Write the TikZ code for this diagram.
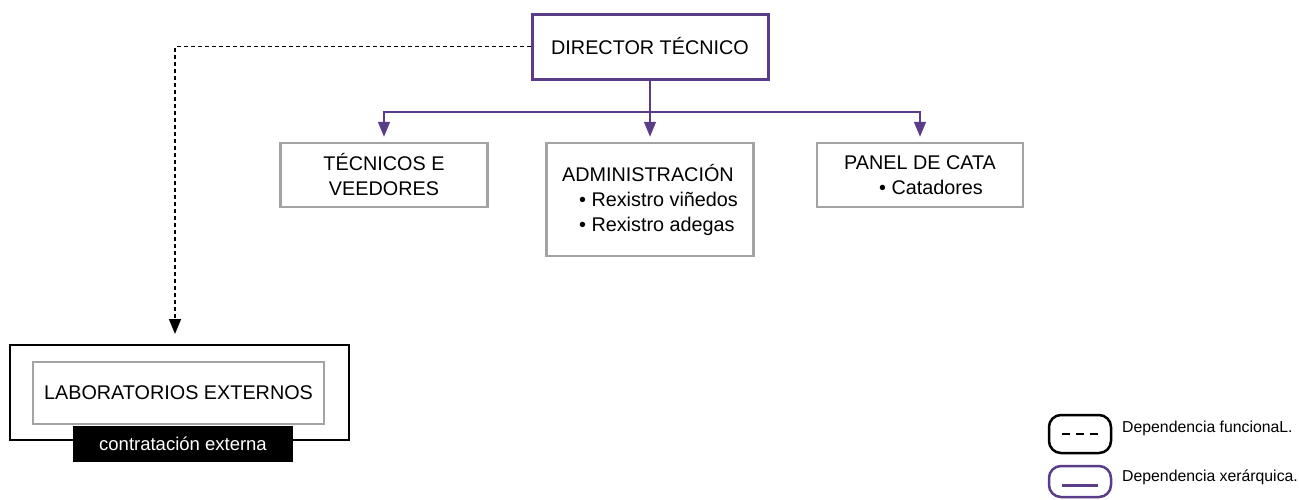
\documentclass[tikz,border=0pt]{standalone}
\usepackage{fontspec}
\setmainfont{Liberation Sans}
\usetikzlibrary{arrows.meta}
\definecolor{morado}{HTML}{5B3C88}
\definecolor{gris}{HTML}{A3A3A3}

\begin{document}
\begin{tikzpicture}[x=1pt, y=-1pt,
  every node/.style={font=\fontsize{19.8}{25}\selectfont, inner sep=0pt},
  director/.style={draw=morado, line width=3pt, minimum width=236pt, minimum height=65pt},
  caja/.style={draw=gris, line width=2.5pt, minimum width=207pt, minimum height=64pt},
  jerarquica/.style={draw=morado, line width=1.5pt},
  funcional/.style={draw=black, line width=1.5pt, dash pattern=on 4pt off 3pt},
  punta/.style={-{Triangle[width=12pt,length=15pt]}},
  leyenda/.style={rounded corners=12pt, line width=2.5pt, minimum width=62pt, minimum height=38pt},
  textoleyenda/.style={font=\fontsize{15.8}{18}\selectfont, anchor=west}]
  \useasboundingbox (0,0) rectangle (1299,499);

  \node[director] (dtec) at (650,46.5) {DIRECTOR TÉCNICO};
  \node[caja, align=center] (tecnicos) at (384,175) {TÉCNICOS E\\VEEDORES};
  \node[caja, align=left, minimum height=113pt] (admin) at (650,199.5)
    {ADMINISTRACIÓN\\\hspace*{17pt}• Rexistro viñedos\\\hspace*{17pt}• Rexistro adegas};
  \node[caja, align=left, minimum width=206pt] (panel) at (920,175)
    {PANEL DE CATA\\\hspace*{35pt}• Catadores};

  % laboratorios
  \node[draw, line width=2pt, minimum width=339pt, minimum height=95pt] (labext) at (179.5,392.5) {};
  \node[caja, minimum width=291pt, minimum height=62pt] (lab) at (178.5,393) {LABORATORIOS EXTERNOS};
  \node[fill=black, text=white, minimum width=220pt, minimum height=36pt,
    font=\fontsize{18.5}{22}\selectfont] (contrat) at (183,444) {contratación externa};

  % dependencia xerarquica
  \coordinate (barra) at (650,112);
  \draw[jerarquica] (dtec.south) -- (barra);
  \draw[jerarquica, punta, shorten >=5pt] (barra) -| (tecnicos.north);
  \draw[jerarquica, punta, shorten >=5pt] (barra) -- (admin.north);
  \draw[jerarquica, punta, shorten >=5pt] (barra) -| (panel.north);

  % dependencia funcional
  \draw[funcional, punta, shorten >=10pt] (dtec.west) -| ([xshift=-4.5pt]labext.north);

  % lenda
  \node[leyenda, draw=black] (leg1) at (1080,434) {};
  \draw[line width=2.5pt, dash pattern=on 8pt off 6pt]
    ([xshift=-18pt]leg1.center) -- ([xshift=18pt]leg1.center);
  \node[leyenda, draw=morado, minimum height=31pt] (leg2) at (1080,481.5) {};
  \draw[morado, line width=2.5pt]
    ([xshift=-18pt,yshift=-4pt]leg2.center) -- ([xshift=18pt,yshift=-4pt]leg2.center);
  \node[textoleyenda] (txt1) at (1122,428.5) {Dependencia funcionaL.};
  \node[textoleyenda] (txt2) at (1122,477) {Dependencia xerárquica.};
\end{tikzpicture}
\end{document}
